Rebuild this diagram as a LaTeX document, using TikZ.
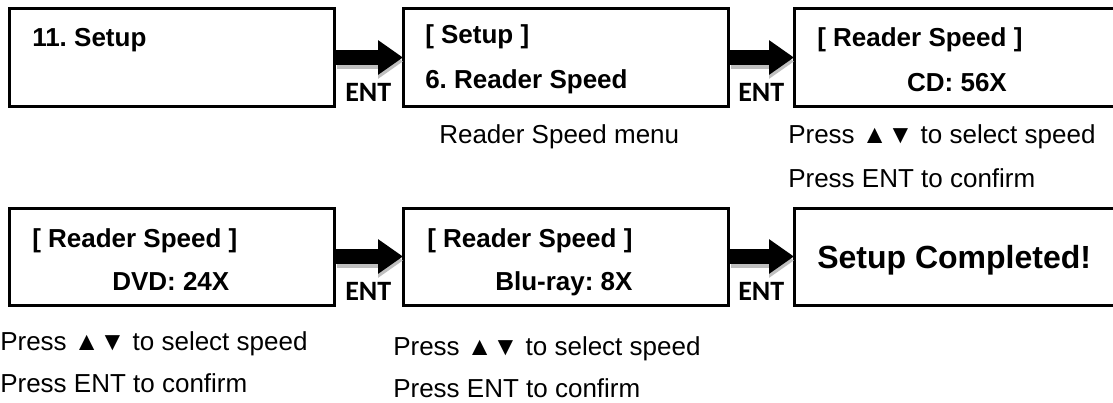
\documentclass[tikz,border=0pt]{standalone}
\usepackage{fontspec}
\setmainfont{Liberation Sans}
\newfontfamily\entfont{Carlito}
\usetikzlibrary{arrows.meta}
\frenchspacing

\tikzset{
  screen/.style={draw, line width=2.25pt, fill=white, anchor=north west, inner sep=0, outer sep=0,
    minimum width=243.75pt, minimum height=72.75pt},
  lcd/.style={anchor=base west, inner sep=0, font=\bfseries\fontsize{19.5}{23}\selectfont},
  note/.style={anchor=base west, inner sep=0, font=\fontsize{19.5}{23}\selectfont},
  entlabel/.style={anchor=base west, inner sep=0, font=\entfont\bfseries\fontsize{21}{25}\selectfont},
  fatarrow/.style={line width=11.25pt, -{Triangle[length=18.75pt,width=24.75pt]}},
  fatshadow/.style={fatarrow, draw=black!25, shorten >=2.25pt}
}

\begin{document}
\begin{tikzpicture}[x=0.75pt, y=-0.75pt]
  \useasboundingbox (0,0) rectangle (1113,403);

  % screens
  \node[screen] (s1) at (9,9) {};
  \node[screen] (s2) at (403,9) {};
  \node[screen] (s3) at (794,9) {};
  \node[screen] (s4) at (9,208) {};
  \node[screen] (s5) at (403,208) {};
  \node[screen] (s6) at (794,208) {};

  % screen texts
  \node[lcd] (t1a) at (32,47) {11. Setup};
  \node[lcd] (t2a) at (425,44) {[ Setup ]};
  \node[lcd] (t2b) at (425,89) {6. Reader Speed};
  \node[lcd] (t3a) at (817,47) {[ Reader Speed ]};
  \node[lcd, anchor=base] (t3b) at (957,92) {CD: 56X};
  \node[lcd] (t4a) at (32,247) {[ Reader Speed ]};
  \node[lcd] (t4b) at (112,290) {DVD: 24X};
  \node[lcd] (t5a) at (427,247) {[ Reader Speed ]};
  \node[lcd] (t5b) at (495,290) {Blu-ray: 8X};
  \node[lcd, font=\bfseries\fontsize{24}{28}\selectfont] (t6a) at (817,268) {Setup Completed!};

  % captions
  \node[note] (c2) at (439,143) {Reader Speed menu};
  \node[note] (c3a) at (788,143) {Press ▲▼ to select speed};
  \node[note] (c3b) at (788,187) {Press ENT to confirm};
  \node[note] (c4a) at (0,350) {Press ▲▼ to select speed};
  \node[note] (c4b) at (0,392) {Press ENT to confirm};
  \node[note] (c5a) at (393,355) {Press ▲▼ to select speed};
  \node[note] (c5b) at (393,397) {Press ENT to confirm};

  % ENT arrows
  \draw[fatshadow] ([shift={(3,4)}]s1.east) -- ([shift={(3,4)}]s2.west);
  \draw[fatshadow] ([shift={(3,4)}]s2.east) -- ([shift={(3,4)}]s3.west);
  \draw[fatshadow] ([shift={(3,4)}]s4.east) -- ([shift={(3,4)}]s5.west);
  \draw[fatshadow] ([shift={(3,4)}]s5.east) -- ([shift={(3,4)}]s6.west);
  \draw[fatarrow] (s1.east) -- (s2.west);
  \draw[fatarrow] (s2.east) -- (s3.west);
  \draw[fatarrow] (s4.east) -- (s5.west);
  \draw[fatarrow] (s5.east) -- (s6.west);

  \node[entlabel] (e1) at (345,102) {ENT};
  \node[entlabel] (e2) at (738,102) {ENT};
  \node[entlabel] (e3) at (345,300) {ENT};
  \node[entlabel] (e4) at (738,300) {ENT};
\end{tikzpicture}
\end{document}
